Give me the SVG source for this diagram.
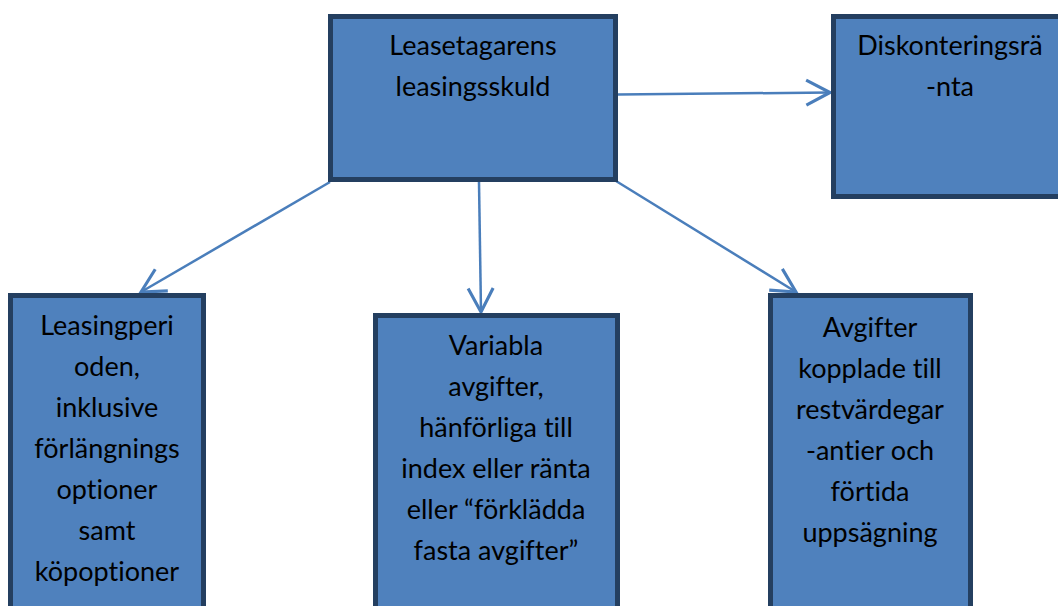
<svg xmlns="http://www.w3.org/2000/svg" width="1058" height="606" viewBox="0 0 1058 606">
<defs>
<style>
.box{fill:#4f81bd;stroke:#243f60;stroke-width:5}
.t{font-family:Lato,"Open Sans",sans-serif;font-size:27px;fill:#000;text-anchor:middle;font-variant-ligatures:none}
.c{stroke:#4a7ebb;stroke-width:2.5;fill:none}
</style>
<marker id="arr" markerUnits="userSpaceOnUse" markerWidth="30" markerHeight="30" viewBox="-22 -12 24 24" refX="0" refY="0" orient="auto">
<path d="M-19,-10 L0,0 L-19,10" fill="none" stroke="#4a7ebb" stroke-width="2.5"/>
</marker>
</defs>
<rect width="1058" height="606" fill="#fff"/>
<g id="connectors">
<line class="c" x1="618" y1="94.5" x2="830" y2="92.5" marker-end="url(#arr)"/>
<line class="c" x1="330" y1="182" x2="141" y2="292" marker-end="url(#arr)"/>
<line class="c" x1="479" y1="182" x2="481" y2="312" marker-end="url(#arr)"/>
<line class="c" x1="616" y1="181" x2="796" y2="292" marker-end="url(#arr)"/>
</g>
<g id="node-skuld">
<rect class="box" x="330.5" y="16.5" width="285" height="163"/>
<text class="t" x="473" y="55">Leasetagarens</text>
<text class="t" x="473" y="96">leasingsskuld</text>
</g>
<g id="node-diskontering">
<rect class="box" x="833.5" y="16.5" width="240" height="180"/>
<text class="t" x="950" y="55">Diskonteringsrä</text>
<text class="t" x="950" y="96">-nta</text>
</g>
<g id="node-leasingperiod">
<rect class="box" x="10.5" y="295.5" width="193" height="330"/>
<text class="t" x="107" y="335">Leasingperi</text>
<text class="t" x="107" y="376">oden,</text>
<text class="t" x="107" y="417">inklusive</text>
<text class="t" x="107" y="458">förlängnings</text>
<text class="t" x="107" y="499">optioner</text>
<text class="t" x="107" y="540">samt</text>
<text class="t" x="107" y="581">köpoptioner</text>
</g>
<g id="node-variabla">
<rect class="box" x="375.5" y="315.5" width="242" height="310"/>
<text class="t" x="496" y="355">Variabla</text>
<text class="t" x="496" y="396">avgifter,</text>
<text class="t" x="496" y="437">hänförliga till</text>
<text class="t" x="496" y="478">index eller ränta</text>
<text class="t" x="496" y="519">eller “förklädda</text>
<text class="t" x="496" y="560">fasta avgifter”</text>
</g>
<g id="node-restvarde">
<rect class="box" x="770.5" y="295.5" width="200" height="330"/>
<text class="t" x="870" y="337">Avgifter</text>
<text class="t" x="870" y="378">kopplade till</text>
<text class="t" x="870" y="419">restvärdegar</text>
<text class="t" x="870" y="460">-antier och</text>
<text class="t" x="870" y="501">förtida</text>
<text class="t" x="870" y="542">uppsägning</text>
</g>
</svg>
